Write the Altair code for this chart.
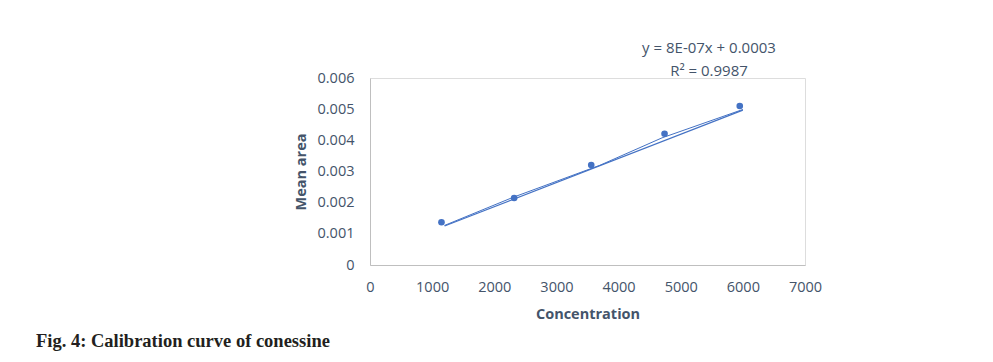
import altair as alt
import pandas as pd

# Data
conc = [1150, 2320, 3560, 4740, 5950]
mean_area = [0.00137, 0.00215, 0.00321, 0.00421, 0.00510]

# Linear trendline (Excel style) endpoints
trend_x = [1200, 6000]
trend_y = [0.00125, 0.00497]

# Second (nearly coincident) line drawn in the figure
line2_x = [1200, 2300, 3700, 4700, 6000]
line2_y = [0.00127, 0.00217, 0.00320, 0.00408, 0.00499]

equation = "y = 8E-07x + 0.0003"
r2_text = "R² = 0.9987"
caption = "Fig. 4: Calibration curve of conessine"

x_ticks = [0, 1000, 2000, 3000, 4000, 5000, 6000, 7000]
y_ticks = [0, 0.001, 0.002, 0.003, 0.004, 0.005, 0.006]

BLUE = "#4472C4"
TXT = "#44546A"
FONT = "Open Sans"

pts = pd.DataFrame({"x": conc, "y": mean_area})
trend = pd.DataFrame({"x": trend_x, "y": trend_y})
l2 = pd.DataFrame({"x": line2_x, "y": line2_y})

xs = alt.Scale(domain=[0, 7000], nice=False)
ys = alt.Scale(domain=[0, 0.006], nice=False)

xax = alt.Axis(values=x_ticks, format="d", title="Concentration", grid=False,
               ticks=False, domainColor="#BFBFBF", labelColor=TXT, labelFont=FONT,
               labelFontSize=14.5, labelPadding=15, labelOverlap=False, labelFlush=False,
               titleFont=FONT, titleFontSize=14.5,
               titleFontWeight="bold", titleColor=TXT, titlePadding=14)
yax = alt.Axis(values=y_ticks, format=".3~f", title="Mean area", grid=False,
               ticks=False, domainColor="#BFBFBF", labelColor=TXT, labelFont=FONT,
               labelFontSize=14.5, labelPadding=16, labelOverlap=False, labelFlush=False,
               titleFont=FONT, titleFontSize=14.5,
               titleFontWeight="bold", titleColor=TXT, titlePadding=9)

X = alt.X("x:Q", scale=xs, axis=xax)
Y = alt.Y("y:Q", scale=ys, axis=yax)

points = alt.Chart(pts).mark_circle(size=44, color=BLUE, opacity=1).encode(x=X, y=Y)

trend_line = alt.Chart(trend).mark_line(color=BLUE, strokeWidth=1.2).encode(x=X, y=Y)

second_line = alt.Chart(l2).mark_line(color=BLUE, strokeWidth=1.0).encode(x=X, y=Y)

eq_df = pd.DataFrame({"t": [equation]})
r2_df = pd.DataFrame({"t": [r2_text]})
cap_df = pd.DataFrame({"t": [caption]})

eq_txt = alt.Chart(eq_df).mark_text(font=FONT, fontSize=15, color=TXT, align="center",
                                    baseline="middle").encode(
    text="t:N", x=alt.value(339), y=alt.value(-30))
r2_txt = alt.Chart(r2_df).mark_text(font=FONT, fontSize=15, color=TXT, align="center",
                                    baseline="middle").encode(
    text="t:N", x=alt.value(339), y=alt.value(-7))
cap_txt = alt.Chart(cap_df).mark_text(font="Liberation Serif", fontSize=18.5, fontWeight="bold",
                                      color="#231F20", align="left", baseline="middle").encode(
    text="t:N", x=alt.value(-334), y=alt.value(263))

chart = alt.layer(second_line, trend_line, points, eq_txt, r2_txt, cap_txt).properties(
    width=435, height=187,
    autosize=alt.AutoSizeParams(type="none"),
    padding={"left": 362, "top": 70, "right": 180, "bottom": 89},
).configure_view(stroke=None).configure(background="white")

chart.save("out.html", embed_options={"renderer": "svg", "actions": False})
